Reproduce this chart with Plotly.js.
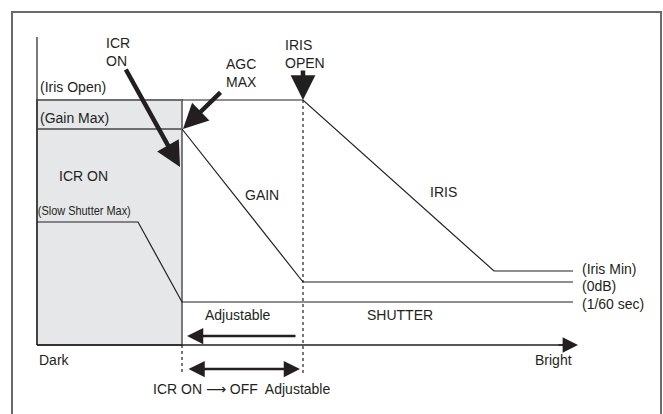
<!DOCTYPE html>
<html>
<head>
<meta charset="utf-8">
<script src="https://cdn.plot.ly/plotly-3.0.1.min.js"></script>
<style>html,body{margin:0;padding:0;background:#fff;}#chart{width:663px;height:414px;}</style>
</head>
<body>
<div id="chart"></div>
<script>
// Diagram coordinates: x = brightness (0 = dark end), y = level
var boxX = [0, 0, 145, 145];
var boxY = [0, 245, 245, 0];
var gainMaxX = [0, 145];
var gainMaxY = [216, 216];
var irisX = [145, 266, 457, 536];
var irisY = [245, 245, 74, 74];
var gainX = [145, 266, 536];
var gainY = [216, 63, 63];
var shutterX = [0, 101, 145, 536];
var shutterY = [123, 123, 43, 43];
var vAxisX = [0, 0];
var vAxisY = [0, 308];
var baseX = [0, 534];
var baseY = [0, 0];
var dot1X = [145, 145];
var dot1Y = [0, -28];
var dot2X = [266, 266];
var dot2Y = [245, -28];

var labelText = ["ICR<br>ON", "AGC<br>MAX", "IRIS<br>OPEN", "(Iris Open)", "(Gain Max)", "ICR ON",
                 "GAIN", "IRIS", "(Iris Min)", "(0dB)", "(1/60 sec)", "Adjustable", "SHUTTER",
                 "Dark", "Bright",
                 "ICR ON <span style=\"font-family:DejaVu Sans\">\u27F6</span> OFF  Adjustable"];
var labelX = [67, 187, 246, 1, 1, 46, 225, 406, 543, 543, 543, 201, 363, 0, 516, 204];
var labelY = [293, 272, 291, 258, 227, 169, 150, 153, 76, 59, 41, 30, 30, -15, -15, -44];
var labelAnchor = ["left", "left", "left", "left", "left", "center", "center", "center",
                   "left", "left", "left", "center", "center", "left", "center", "center"];
var slowText = "(Slow Shutter Max)";
var slowX = 47.5, slowY = 135;

// arrows: [tailX, tailY, headX, headY]
var arrowICR = [88, 277, 143, 178];
var arrowAGC = [185, 254, 146, 216];
var arrowIris = [266, 276, 266, 245];
var arrowAdj = [260, 9, 150, 9];
var arrowBoth = [150, -24, 263, -24];
var arrowBase = [520, 0, 541, 0];

var BLK = '#231f20', GRY = '#6d6e71';
function ln(x, y, c, w, d) {
  return {x: x, y: y, type: 'scatter', mode: 'lines', hoverinfo: 'skip',
          line: {color: c, width: w, dash: d || 'solid'}};
}
var box = {x: boxX.concat([boxX[0]]), y: boxY.concat([boxY[0]]), type: 'scatter', mode: 'lines',
           fill: 'toself', fillcolor: '#e6e7e9', line: {color: GRY, width: 1.8}, hoverinfo: 'skip'};
var traces = [box,
  ln(gainMaxX, gainMaxY, GRY, 1.8),
  ln(irisX, irisY, BLK, 1.2),
  ln(gainX, gainY, BLK, 1.2),
  ln(shutterX, shutterY, BLK, 1.2),
  ln(vAxisX, vAxisY, BLK, 1.2),
  ln(baseX, baseY, BLK, 1.4),
  ln(dot1X, dot1Y, BLK, 1.2, 'dot'),
  ln(dot2X, dot2Y, BLK, 1.2, 'dot')];

var FONT = {family: 'Liberation Sans, Arial, sans-serif', size: 14, color: BLK};
var ann = [];
for (var i = 0; i < labelText.length; i++) {
  ann.push({x: labelX[i], y: labelY[i], xref: 'x', yref: 'y', text: labelText[i], showarrow: false,
            xanchor: labelAnchor[i], yanchor: 'middle', align: 'left', font: FONT});
}
ann.push({x: slowX, y: slowY, xref: 'x', yref: 'y', text: slowText, showarrow: false, xanchor: 'center',
          yanchor: 'middle', font: {family: 'Liberation Sans, Arial, sans-serif', size: 13, color: BLK}});
function arr(a, w, s, both) {
  var o = {x: a[2], y: a[3], ax: a[0], ay: a[1], xref: 'x', yref: 'y', axref: 'x', ayref: 'y',
           text: '', showarrow: true, arrowhead: 2, arrowsize: s, arrowwidth: w, arrowcolor: BLK};
  if (both) { o.arrowside = 'end+start'; o.startarrowhead = 2; o.startarrowsize = s; }
  return o;
}
ann.push(arr(arrowICR, 4.5, 1.1));
ann.push(arr(arrowAGC, 4.5, 1.1));
ann.push(arr(arrowIris, 4.5, 1.1));
ann.push(arr(arrowAdj, 2.5, 1.3));
ann.push(arr(arrowBoth, 2.5, 1.3, true));
ann.push(arr(arrowBase, 1.4, 2.2));

var layout = {
  width: 663, height: 414, margin: {l: 0, r: 0, t: 0, b: 0},
  paper_bgcolor: '#fff', plot_bgcolor: '#fff', showlegend: false,
  xaxis: {range: [-37, 626], visible: false, fixedrange: true},
  yaxis: {range: [-69, 345], visible: false, fixedrange: true},
  annotations: ann,
  shapes: [{type: 'rect', xref: 'paper', yref: 'paper', x0: 12/663, x1: 661/663, y0: -0.05, y1: 1 - 12/414,
            line: {color: '#6a6a6a', width: 2}, fillcolor: 'rgba(0,0,0,0)', layer: 'below'}]
};
Plotly.newPlot('chart', traces, layout, {displayModeBar: false, staticPlot: true}).then(function () {
  // the reference sets this label in a condensed face
  document.querySelectorAll('.annotation-text').forEach(function (t) {
    if (t.textContent === slowText) {
      t.setAttribute('textLength', '93');
      t.setAttribute('lengthAdjust', 'spacingAndGlyphs');
    }
  });
});
</script>
</body>
</html>
